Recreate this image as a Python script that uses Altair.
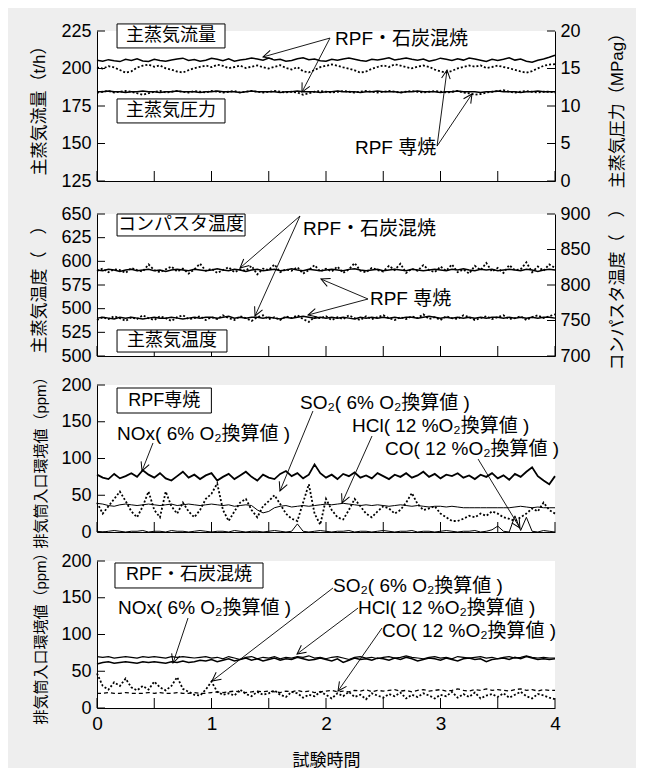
import math
import altair as alt
import pandas as pd

FONT = "Liberation Sans, DejaVu Sans, Noto Sans CJK JP, sans-serif"

TIME = [round(i * 0.05, 2) for i in range(81)]
X_TICKS = [0, 0.5, 1, 1.5, 2, 2.5, 3, 3.5, 4]
X_LABELS = [0, 1, 2, 3, 4]

# ---------------- Panel 1: main steam flow (left, t/h) & pressure (right, MPag)
FLOW_MIX = [205.5, 204.8, 205.9, 205.2, 204.6, 206.1, 205.4, 206.5, 205.0, 204.7,
            206.2, 205.3, 204.9, 205.6, 206.3, 206.9, 205.4, 206.0, 204.8, 205.5,
            206.8, 206.1, 205.2, 206.4, 204.9, 205.7, 206.2, 207.0, 206.3, 205.5,
            206.9, 205.6, 206.2, 204.9, 205.4, 206.5, 207.1, 205.8, 206.3, 205.2,
            204.8, 206.2, 205.5, 206.4, 207.0, 206.2, 205.4, 204.9, 206.1, 205.6,
            206.4, 207.2, 205.7, 206.3, 207.0, 206.1, 205.5, 206.3, 204.8, 205.6,
            206.9, 206.2, 205.4, 206.5, 205.6, 207.0, 206.3, 205.5, 204.7, 206.1,
            205.4, 206.2, 207.1, 205.6, 206.3, 204.9, 204.2, 205.5, 206.4, 207.5,
            208.8]
FLOW_RPF = [200.8, 199.9, 201.6, 200.7, 199.0, 197.2, 198.1, 200.6, 201.9, 202.6,
            201.2, 202.0, 200.1, 199.2, 198.0, 197.3, 198.9, 200.2, 201.1, 202.0,
            200.9, 202.5, 201.8, 200.2, 201.0, 201.9, 200.3, 201.2, 202.1, 200.8,
            200.0, 201.1, 202.2, 200.4, 199.3, 200.9, 198.2, 197.4, 199.0, 200.9,
            201.8, 202.7, 201.9, 200.8, 199.9, 198.8, 197.2, 198.0, 199.8, 201.0,
            202.1, 201.0, 202.8, 201.9, 200.9, 200.1, 201.2, 202.0, 201.1, 199.3,
            198.1, 197.3, 198.4, 200.1, 201.0, 202.0, 201.2, 202.1, 200.3, 201.0,
            201.9, 201.0, 200.2, 199.1, 198.0, 197.2, 198.3, 200.1, 201.8, 202.6,
            202.9]
PRESS_MIX = [11.9, 11.9, 12.0, 11.9, 11.9, 11.8, 11.9, 11.9, 12.0, 11.9,
             11.9, 11.8, 11.9, 11.9, 12.0, 11.9, 11.9, 11.9, 11.8, 11.9,
             11.9, 12.0, 11.9, 11.9, 11.9, 11.8, 11.9, 12.0, 11.9, 11.9,
             11.9, 11.9, 11.8, 11.9, 11.9, 12.0, 11.9, 11.9, 11.9, 11.8,
             11.9, 11.9, 12.0, 11.9, 11.9, 11.9, 11.8, 11.9, 11.9, 12.0,
             11.9, 11.9, 11.9, 11.8, 11.9, 11.9, 12.0, 11.9, 11.9, 11.9,
             11.8, 11.9, 11.9, 12.0, 11.9, 11.9, 11.9, 11.8, 11.9, 11.9,
             12.0, 11.9, 11.9, 11.9, 11.8, 11.9, 11.9, 12.0, 11.9, 11.9,
             11.9]
PRESS_RPF = [11.8, 11.9, 12.0, 11.8, 11.9, 12.0, 11.9, 11.7, 11.5, 11.7,
             11.9, 12.0, 11.8, 11.9, 12.0, 11.9, 11.8, 12.0, 11.9, 11.8,
             12.0, 11.9, 11.8, 11.9, 12.0, 11.8, 11.9, 12.0, 11.9, 11.8,
             11.9, 12.0, 11.9, 11.8, 11.9, 11.8, 11.5, 11.7, 11.9, 12.0,
             11.9, 11.8, 11.9, 12.0, 11.9, 11.8, 11.9, 12.0, 11.9, 11.8,
             11.9, 12.0, 11.9, 11.8, 11.9, 12.0, 11.9, 11.8, 11.9, 12.0,
             11.9, 11.8, 11.9, 12.0, 11.8, 11.7, 11.5, 11.6, 11.8, 11.9,
             12.0, 12.1, 11.9, 11.8, 11.9, 12.0, 11.9, 11.8, 11.9, 11.9,
             11.8]
P1_LEFT_TICKS = [125, 150, 175, 200, 225]
P1_RIGHT_TICKS = [0, 5, 10, 15, 20]

# ---------------- Panel 2: main steam temperature (left) & combustor temperature (right)
STEAM_MIX = [540, 541, 540, 539, 541, 540, 541, 540, 539, 540,
             541, 540, 540, 541, 540, 539, 540, 541, 540, 541,
             541, 540, 541, 542, 540, 541, 540, 541, 541, 540,
             541, 540, 539, 541, 540, 541, 542, 541, 540, 541,
             540, 541, 540, 541, 540, 539, 541, 540, 541, 540,
             541, 540, 541, 540, 541, 541, 540, 541, 542, 541,
             540, 541, 540, 541, 540, 541, 540, 541, 540, 541,
             541, 540, 541, 540, 541, 540, 541, 540, 541, 541,
             540]
STEAM_RPF = [538, 541, 539, 542, 540, 537, 541, 539, 543, 540,
             538, 542, 540, 537, 541, 543, 539, 540, 542, 538,
             541, 539, 543, 540, 538, 542, 540, 537, 541, 543,
             539, 541, 538, 542, 540, 543, 539, 536, 541, 540,
             542, 538, 541, 539, 543, 540, 538, 542, 539, 541,
             543, 540, 538, 541, 539, 542, 540, 544, 539, 541,
             538, 542, 540, 539, 543, 541, 538, 540, 542, 539,
             541, 543, 539, 540, 542, 538, 541, 543, 540, 542,
             544]
COMB_MIX = [821, 820, 822, 821, 819, 821, 822, 820, 821, 822,
            820, 821, 819, 821, 822, 821, 820, 822, 821, 820,
            821, 823, 821, 820, 822, 821, 819, 821, 822, 820,
            821, 822, 820, 821, 823, 821, 820, 822, 821, 820,
            821, 822, 821, 820, 822, 823, 821, 820, 821, 822,
            820, 821, 822, 821, 820, 822, 821, 820, 821, 822,
            821, 820, 822, 821, 823, 821, 820, 822, 821, 822,
            820, 821, 822, 821, 820, 822, 821, 819, 821, 822,
            821]
COMB_RPF = [820, 823, 818, 822, 821, 817, 824, 821, 819, 829,
            821, 818, 822, 826, 819, 823, 816, 822, 830, 820,
            823, 817, 821, 825, 818, 822, 820, 827, 815, 823,
            821, 829, 818, 822, 820, 825, 816, 821, 828, 819,
            823, 819, 826, 817, 822, 831, 820, 818, 824, 821,
            819, 827, 821, 830, 817, 823, 820, 828, 821, 818,
            826, 820, 829, 818, 822, 816, 827, 821, 831, 819,
            824, 817, 828, 821, 822, 832, 818, 826, 820, 829,
            824]
P2_LEFT_TICKS = [500, 525, 550, 575, 600, 625, 650]
P2_RIGHT_TICKS = [700, 750, 800, 850, 900]

# ---------------- Panel 3: stack inlet values, RPF only
P3_NOX = [78, 74, 72, 79, 73, 76, 80, 75, 84, 78,
          74, 80, 73, 70, 76, 82, 74, 78, 72, 77,
          80, 70, 75, 79, 72, 77, 82, 75, 70, 78,
          74, 72, 79, 83, 76, 80, 73, 78, 92, 80,
          74, 78, 72, 79, 76, 81, 74, 77, 73, 80,
          76, 72, 78, 75, 80, 74, 77, 82, 75, 79,
          73, 78, 76, 80, 74, 77, 72, 78, 75, 80,
          73, 77, 71, 79, 75, 82, 88, 76, 70, 65,
          76]
P3_SO2 = [40, 25, 35, 45, 55, 42, 28, 20, 35, 55,
          30, 20, 55, 35, 25, 40, 28, 20, 30, 45,
          52, 66, 30, 15, 28, 40, 45, 30, 20, 35,
          42, 50, 38, 25, 18, 15, 40, 65, 25, 10,
          45, 30, 20, 17, 30, 45, 35, 25, 20, 28,
          35, 32, 25, 30, 40, 53, 38, 30, 32, 35,
          25, 20, 15, 15, 18, 22, 20, 25, 22, 28,
          25, 20, 18, 15, 20, 25, 32, 28, 40, 30,
          25]
P3_HCL = [39, 38, 36, 35, 37, 38, 37, 36, 37, 38,
          37, 36, 37, 38, 36, 37, 38, 37, 36, 37,
          38, 37, 36, 37, 35, 36, 37, 36, 30, 26,
          28, 33, 35, 36, 34, 35, 36, 35, 36, 37,
          38, 37, 38, 39, 38, 37, 36, 37, 36, 37,
          36, 35, 36, 37, 36, 35, 36, 35, 34, 35,
          35, 34, 35, 34, 33, 33, 33, 33, 33, 33,
          33, 33, 33, 34, 35, 34, 33, 34, 33, 33,
          33]
P3_CO = [1, 0, 1, 2, 1, 0, 1, 1, 2, 0,
         1, 1, 0, 2, 1, 1, 0, 1, 2, 1,
         0, 1, 1, 0, 2, 1, 0, 1, 1, 0,
         1, 2, 1, 0, 1, 11, 1, 0, 1, 2,
         1, 0, 1, 1, 2, 0, 1, 1, 0, 1,
         2, 1, 0, 1, 1, 2, 0, 1, 1, 0,
         1, 2, 1, 0, 1, 1, 2, 0, 1, 3,
         8, 1, 0, 22, 2, 20, 1, 0, 2, 1,
         0]

# ---------------- Panel 4: stack inlet values, RPF + coal
P4_NOX = [60, 62, 63, 61, 62, 63, 62, 61, 63, 62,
          63, 62, 61, 63, 62, 64, 62, 63, 65, 64,
          66, 63, 65, 67, 64, 66, 68, 65, 67, 64,
          66, 68, 65, 67, 66, 69, 67, 65, 66, 68,
          66, 64, 67, 62, 65, 68, 66, 67, 65, 68,
          67, 65, 68, 66, 69, 67, 64, 66, 68, 67,
          65, 68, 66, 64, 67, 68, 66, 67, 63, 66,
          67, 68, 66, 69, 67, 70, 68, 66, 67, 66,
          67]
P4_HCL = [70, 69, 70, 68, 69, 70, 69, 68, 70, 69,
          70, 69, 68, 70, 69, 70, 69, 68, 69, 70,
          68, 69, 67, 70, 68, 66, 69, 70, 67, 69,
          68, 70, 67, 69, 68, 70, 69, 71, 68, 69,
          67, 69, 70, 68, 66, 69, 70, 68, 69, 67,
          69, 70, 68, 69, 71, 69, 68, 67, 69, 70,
          68, 69, 67, 70, 69, 68, 69, 70, 68, 69,
          67, 69, 70, 68, 69, 71, 69, 68, 69, 68,
          68]
P4_SO2 = [47, 30, 25, 35, 30, 40, 28, 24, 30, 25,
          36, 28, 24, 30, 42, 26, 22, 18, 17, 25,
          36, 22, 18, 20, 17, 25, 19, 16, 22, 18,
          20, 24, 18, 15, 22, 20, 14, 18, 16, 22,
          18, 13, 20, 16, 22, 15, 18, 12, 20, 17,
          14, 19, 16, 21, 13, 18, 15, 20, 17, 13,
          18, 16, 22, 14, 19, 15, 21, 13, 17, 19,
          15, 20, 14, 18, 22, 16, 13, 19, 17, 14,
          12]
P4_CO = [20, 20, 21, 20, 20, 21, 20, 20, 20, 21,
         20, 21, 20, 20, 21, 20, 20, 21, 20, 20,
         21, 22, 21, 22, 23, 22, 21, 22, 23, 22,
         23, 22, 21, 23, 22, 24, 22, 23, 21, 22,
         23, 24, 22, 23, 22, 24, 23, 25, 22, 24,
         23, 24, 25, 23, 24, 22, 24, 25, 23, 24,
         25, 23, 24, 26, 24, 23, 25, 24, 26, 24,
         25, 24, 23, 25, 26, 24, 25, 23, 25, 24,
         24]
PPM_TICKS = [0, 50, 100, 150, 200]

# ---------------- annotations (data units of each panel's left axis)
P1_BOXES = [("主蒸気流量", 0.175, 1.118, 213.7, 229.7), ("主蒸気圧力", 0.175, 1.118, 163.7, 179.7)]
P1_TEXTS = [("RPF・石炭混焼", 2.079, 219.7), ("RPF 専焼", 2.253, 147.0)]
P1_ARROWS = [(2.035, 220.3, 1.45, 207.7), (2.035, 220.3, 1.79, 184.3),
             (2.97, 148.3, 3.057, 199.0), (2.97, 148.3, 3.275, 183.0)]

P2_BOXES = [("コンパスタ温度", 0.175, 1.293, 626.8, 650.0), ("主蒸気温度", 0.175, 1.135, 504.2, 527.5)]
P2_TEXTS = [("RPF・石炭混焼", 1.80, 634.2), ("RPF 専焼", 2.384, 560.2)]
P2_ARROWS = [(1.773, 647.9, 1.249, 593.0), (1.773, 647.9, 1.38, 542.3),
             (2.367, 560.2, 1.956, 581.3), (2.367, 560.2, 1.843, 543.3)]

P3_BOXES = [("RPF専焼", 0.175, 0.999, 161.9, 195.9)]
P3_TEXTS = [("NOx( 6% O₂換算値 )", 0.175, 133.3), ("SO₂( 6% O₂換算値 )", 1.773, 175.5),
            ("HCl( 12 %O₂換算値 )", 2.227, 144.2), ("CO( 12 %O₂換算値 )", 2.515, 112.9)]
P3_ARROWS = [(0.489, 121.1, 0.393, 83.0), (1.886, 164.6, 1.598, 55.8),
             (2.402, 130.6, 2.14, 39.5), (3.328, 99.3, 3.694, 5.4)]

P4_BOXES = [("RPF・石炭混焼", 0.157, 1.45, 163.3, 197.3)]
P4_TEXTS = [("NOx( 6% O₂換算値 )", 0.183, 136.0), ("SO₂( 6% O₂換算値 )", 2.061, 166.0),
            ("HCl( 12 %O₂換算値 )", 2.28, 136.0), ("CO( 12 %O₂換算値 )", 2.489, 104.8)]
P4_ARROWS = [(0.795, 122.4, 0.664, 61.2), (2.061, 163.3, 1.004, 36.7),
             (2.28, 136.0, 1.747, 73.5), (2.489, 108.8, 2.105, 23.1)]

W = 458
XS = alt.Scale(domain=[0, 4], nice=False, zero=False)
ARROW = "M-1,-0.5L0,0L-1,0.5"

SOLID = dict(color="black", strokeWidth=1.5)
THIN = dict(color="black", strokeWidth=1.0)
DOTTED = dict(color="black", strokeWidth=1.8, strokeDash=[2, 2])
DASHED = dict(color="black", strokeWidth=1.3, strokeDash=[4, 3])


def sdf(values):
    assert len(values) == len(TIME), len(values)
    return pd.DataFrame({"t": TIME, "v": values})


def xaxis(bottom):
    if bottom:
        return alt.Axis(values=X_LABELS, format="d", ticks=False, tickSize=0, labelPadding=6,
                        labelFontSize=19, labelFlush=False, title="試験時間", titleFontSize=17,
                        titlePadding=19, titleFontWeight="normal", domainColor="black",
                        labelColor="black", titleColor="black", grid=False)
    return alt.Axis(labels=False, ticks=False, tickSize=0, title=None, grid=False, domainColor="black")


def yaxis(values, title, orient, tpad, tsize, label_expr=None):
    kw = dict(values=values, ticks=False, tickSize=0, labelPadding=6, labelFontSize=18,
              title=title, titleFontSize=tsize, titlePadding=tpad, titleFontWeight="normal",
              domainColor="black", labelColor="black", titleColor="black", grid=False,
              orient=orient, labelFlush=False)
    if orient == "right":
        kw["titleAngle"] = 270
        kw["labelPadding"] = 5
    if label_expr:
        kw["labelExpr"] = label_expr
    return alt.Axis(**kw)


def panel(H, ldom, lticks, ltitle, ltsize, lines, boxes, texts, arrows, bottom,
          right=None, label_expr=None):
    YL = alt.Scale(domain=ldom, nice=False, zero=False)
    yax = yaxis(lticks, ltitle, "left", 12, ltsize, label_expr)
    xax = xaxis(bottom)

    def X(f):
        return alt.X(f, type="quantitative", scale=XS, axis=xax)

    def Y(f):
        return alt.Y(f, type="quantitative", scale=YL, axis=yax)

    layers = []
    for vals, style in lines:
        layers.append(alt.Chart(sdf(vals)).mark_line(**style).encode(x=X("t"), y=Y("v")))
    layers.append(alt.Chart(pd.DataFrame({"v": lticks})).mark_rule(color="black", strokeWidth=1)
                  .encode(y=Y("v"), x=alt.value(0), x2=alt.value(8)))
    layers.append(alt.Chart(pd.DataFrame({"t": X_TICKS})).mark_rule(color="black", strokeWidth=1)
                  .encode(x=X("t"), y=alt.value(H), y2=alt.value(H - 10)))
    bdf = pd.DataFrame([{"label": b[0], "t0": b[1], "t1": b[2], "v0": b[3], "v1": b[4],
                         "tc": (b[1] + b[2]) / 2, "vc": (b[3] + b[4]) / 2} for b in boxes])
    layers.append(alt.Chart(bdf).mark_rect(fill="white", stroke="black", strokeWidth=1)
                  .encode(x=X("t0"), x2="t1", y=Y("v0"), y2="v1"))
    layers.append(alt.Chart(bdf).mark_text(font=FONT, fontSize=18, color="black", align="center",
                                           baseline="middle")
                  .encode(x=X("tc"), y=Y("vc"), text="label:N"))
    tdf = pd.DataFrame([{"label": a, "t": b, "v": c} for a, b, c in texts])
    layers.append(alt.Chart(tdf).mark_text(font=FONT, fontSize=19, color="black", align="left",
                                           baseline="middle")
                  .encode(x=X("t"), y=Y("v"), text="label:N"))
    ppt = W / 4.0
    ppv = H / float(ldom[1] - ldom[0])
    rows = []
    for t0, v0, t1, v1 in arrows:
        ang = math.degrees(math.atan2(-(v1 - v0) * ppv, (t1 - t0) * ppt)) % 360
        rows.append({"t0": t0, "v0": v0, "t1": t1, "v1": v1, "ang": ang})
    adf = pd.DataFrame(rows)
    layers.append(alt.Chart(adf).mark_rule(color="black", strokeWidth=0.9)
                  .encode(x=X("t0"), y=Y("v0"), x2="t1", y2="v1"))
    layers.append(alt.Chart(adf).mark_point(shape=ARROW, filled=False, color="black",
                                            strokeWidth=1, size=300, opacity=1)
                  .encode(x=X("t1"), y=Y("v1"), angle=alt.Angle("ang:Q", scale=None)))
    left = alt.layer(*layers)
    if right is None:
        return left.properties(width=W, height=H)
    rdom, rticks, rtitle, rtpad, rlines = right
    YR = alt.Scale(domain=rdom, nice=False, zero=False)
    ryax = yaxis(rticks, rtitle, "right", rtpad, ltsize)
    rl = []
    for vals, style in rlines:
        rl.append(alt.Chart(sdf(vals)).mark_line(**style).encode(
            x=X("t"), y=alt.Y("v", type="quantitative", scale=YR, axis=ryax)))
    rl.append(alt.Chart(pd.DataFrame({"v": rticks})).mark_rule(color="black", strokeWidth=1)
              .encode(y=alt.Y("v", type="quantitative", scale=YR, axis=ryax),
                      x=alt.value(W - 8), x2=alt.value(W)))
    return alt.layer(left, alt.layer(*rl)).resolve_scale(y="independent").properties(width=W, height=H)


p1 = panel(150, [125, 225], P1_LEFT_TICKS, "主蒸気流量（t/h）", 17,
           [(FLOW_MIX, SOLID), (FLOW_RPF, DOTTED)], P1_BOXES, P1_TEXTS, P1_ARROWS, False,
           right=([0, 20], P1_RIGHT_TICKS, "主蒸気圧力（MPag）", 46,
                  [(PRESS_MIX, SOLID), (PRESS_RPF, DOTTED)]))
p2 = panel(142, [500, 650], P2_LEFT_TICKS, "主蒸気温度（　）", 17,
           [(STEAM_MIX, SOLID), (STEAM_RPF, DOTTED)], P2_BOXES, P2_TEXTS, P2_ARROWS, False,
           right=([700, 900], P2_RIGHT_TICKS, "コンパスタ温度（　）", 36,
                  [(COMB_MIX, SOLID), (COMB_RPF, DOTTED)]),
           label_expr="datum.value == 550 ? '500' : datum.label")
p3 = panel(147, [0, 200], PPM_TICKS, "排気筒入口環境値（ppm）", 15,
           [(P3_NOX, dict(color="black", strokeWidth=1.8)), (P3_SO2, DOTTED),
            (P3_HCL, THIN), (P3_CO, THIN)], P3_BOXES, P3_TEXTS, P3_ARROWS, False)
p4 = panel(147, [0, 200], PPM_TICKS, "排気筒入口環境値（ppm）", 15,
           [(P4_NOX, SOLID), (P4_HCL, dict(color="black", strokeWidth=1.2)), (P4_SO2, DOTTED),
            (P4_CO, DASHED)], P4_BOXES, P4_TEXTS, P4_ARROWS, True)

inner = alt.vconcat(p2, p3, p4, spacing=29, bounds="flush")
chart = alt.vconcat(p1, inner, spacing=33, bounds="flush").properties(
    background="#eeeeee",
    padding={"left": 22, "right": 10, "top": 14, "bottom": 0},
).configure_view(stroke=None, fill="white").configure_axis(labelFont=FONT, titleFont=FONT)

chart.save("out.html", embed_options={"renderer": "svg", "actions": False})
